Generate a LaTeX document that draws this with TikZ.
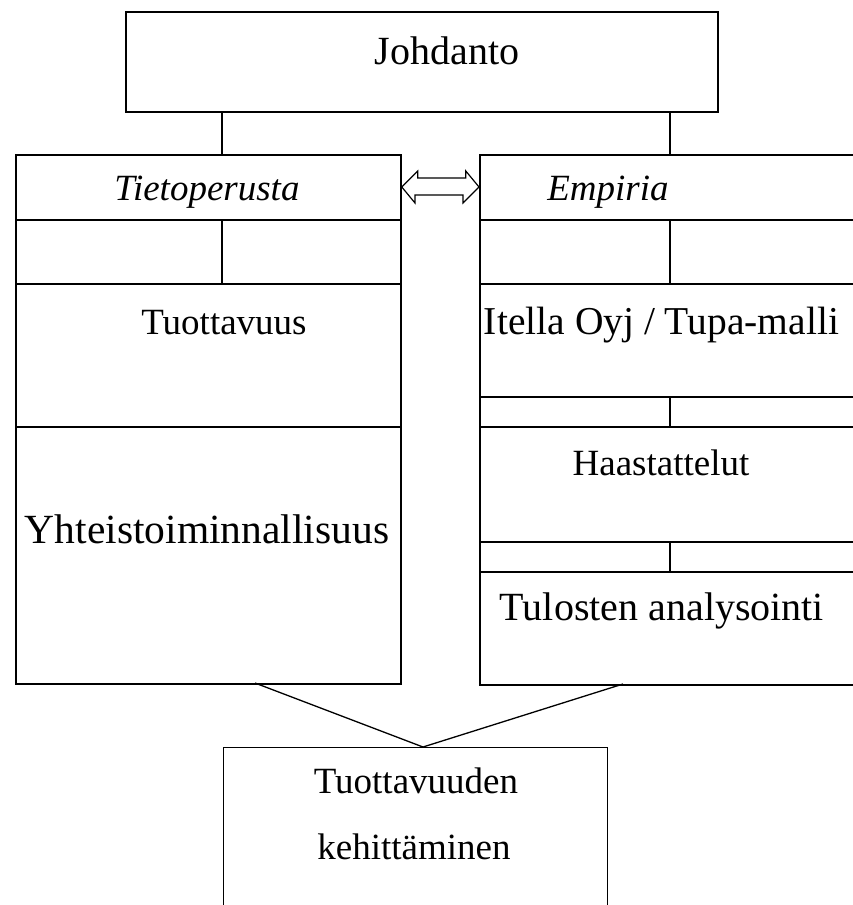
\documentclass[tikz,border=0pt]{standalone}
\usepackage{fontspec}
\setmainfont{Liberation Serif}
\newcommand{\fs}[1]{\fontsize{#1}{#1}\selectfont}
\begin{document}
\begin{tikzpicture}[x=1pt,y=-1pt,
  box/.style={draw,line width=1.8pt,rectangle,inner sep=0pt,anchor=north west},
  conn/.style={line width=1.3pt},
  txt/.style={anchor=base,inner sep=0pt}]
\useasboundingbox (0,0) rectangle (853,905);
\clip (0,0) rectangle (853,905);
% boxes
\node[box,minimum width=592pt,minimum height=100pt] (joh) at (125,11) {};
\node[box,minimum width=385pt,minimum height=65pt] (tieto) at (15,154) {};
\node[box,minimum width=385pt,minimum height=64pt] (lrow) at (15,219) {};
\node[box,minimum width=385pt,minimum height=143pt] (tuot) at (15,283) {};
\node[box,minimum width=385pt,minimum height=257pt] (yht) at (15,426) {};
\node[box,minimum width=400pt,minimum height=65pt] (emp) at (479,154) {};
\node[box,minimum width=400pt,minimum height=64pt] (rrow1) at (479,219) {};
\node[box,minimum width=400pt,minimum height=113pt] (ite) at (479,283) {};
\node[box,minimum width=400pt,minimum height=30pt] (rrow2) at (479,396) {};
\node[box,minimum width=400pt,minimum height=115pt] (haa) at (479,426) {};
\node[box,minimum width=400pt,minimum height=30pt] (rrow3) at (479,541) {};
\node[box,minimum width=400pt,minimum height=113pt] (tul) at (479,571) {};
\node[box,line width=1.4pt,minimum width=384pt,minimum height=175pt] (keh) at (223,747) {};
% texts
\node[txt,font=\fs{40}] (tJoh) at (447,64) {Johdanto};
\node[txt,font=\fs{37}\itshape] (tTieto) at (207,200) {Tietoperusta};
\node[txt,font=\fs{37}\itshape] (tEmp) at (608,200) {Empiria};
\node[txt,font=\fs{37}] (tTuot) at (224,334) {Tuottavuus};
\node[txt,font=\fs{41.5}] (tYht) at (207,543) {Yhteistoiminnallisuus};
\node[txt,font=\fs{39.5}] (tIte) at (661.5,334) {Itella Oyj / Tupa-malli};
\node[txt,font=\fs{37}] (tHaa) at (661,475) {Haastattelut};
\node[txt,font=\fs{40}] (tTul) at (662,620) {Tulosten analysointi};
\node[txt,font=\fs{37}] (tKeh1) at (416,793) {Tuottavuuden};
\node[txt,font=\fs{37}] (tKeh2) at (414,859) {kehittäminen};
% connectors
\coordinate (lx) at (222,0);
\coordinate (rx) at (670,0);
\draw[conn] (joh.south -| lx) -- (tieto.north -| lx);
\draw[conn] (joh.south -| rx) -- (emp.north -| rx);
\draw[conn] (lrow.north -| lx) -- (lrow.south -| lx);
\draw[conn] (rrow1.north -| rx) -- (rrow1.south -| rx);
\draw[conn] (rrow2.north -| rx) -- (rrow2.south -| rx);
\draw[conn] (rrow3.north -| rx) -- (rrow3.south -| rx);
\coordinate (la) at (255,683);
\coordinate (ra) at (623,684);
\coordinate (meet) at (423,747);
\draw[conn] (la) -- (meet) -- (ra);
% double block arrow
\draw[line width=1.2pt,line join=miter]
  (tieto.east |- 0,187) -- ++(16,-16) -- ++(0,7) -- ++(48,0) -- ++(0,-7)
  -- (emp.west |- 0,187) -- ++(-16,16) -- ++(0,-8) -- ++(-48,0) -- ++(0,8) -- cycle;
\end{tikzpicture}
\end{document}
